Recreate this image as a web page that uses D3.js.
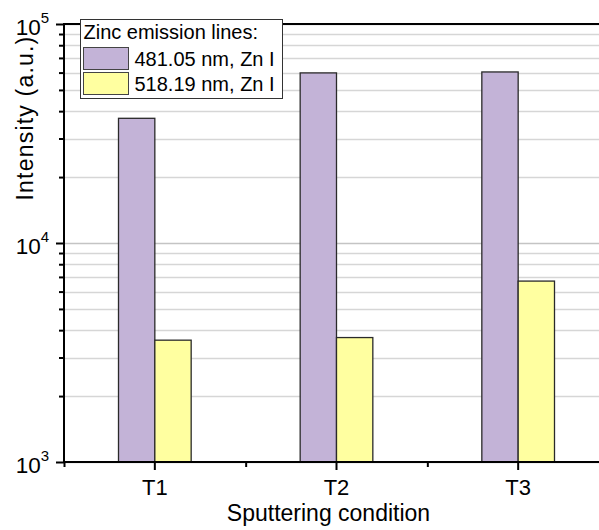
<!DOCTYPE html>
<html>
<head>
<meta charset="utf-8">
<script src="https://cdn.jsdelivr.net/npm/d3@7"></script>
<style>
  html, body { margin: 0; padding: 0; background: #fff; }
  svg { display: block; font-family: "Liberation Sans", Arial, sans-serif; }
</style>
</head>
<body>
<div id="chart"></div>
<script>
// data
var categories = ["T1", "T2", "T3"];
var seriesNames = ["481.05 nm, Zn I", "518.19 nm, Zn I"];
var zn481 = [37100, 59800, 60400];
var zn518 = [3600, 3700, 6700];
var yDomain = [1000, 100000];
var legendTitle = "Zinc emission lines:";
var xTitle = "Sputtering condition";
var yTitle = "Intensity (a.u.)";

var W = 599, H = 530;
var LEFT = 64, RIGHT = 609, TOP = 24, BOTTOM = 462;
var COLORS = ["#c3b3d7", "#ffffa0"];
var FONT = "'Liberation Sans', Arial, sans-serif";

var svg = d3.select("#chart").append("svg")
    .attr("width", W).attr("height", H);

var x = d3.scaleBand().domain(categories).range([LEFT, RIGHT]).padding(0);
var groupW = x.bandwidth() * 0.4;
var xSub = d3.scaleBand().domain(d3.range(seriesNames.length))
    .range([0, groupW]).padding(0);
var y = d3.scaleLog().domain(yDomain).range([BOTTOM, TOP]);

var allTicks = y.ticks();
function isMajor(v) { return Math.abs(Math.log10(v) - Math.round(Math.log10(v))) < 1e-9; }
var majorTicks = allTicks.filter(isMajor);
var minorTicks = allTicks.filter(function (v) { return !isMajor(v); });

/* gridlines */
svg.append("g").selectAll("line")
    .data(allTicks)
    .enter().append("line")
    .attr("x1", LEFT).attr("x2", RIGHT)
    .attr("y1", function (d) { return Math.round(y(d)) + 0.5; })
    .attr("y2", function (d) { return Math.round(y(d)) + 0.5; })
    .attr("stroke", function (d) { return isMajor(d) ? "#c4c4c4" : "#d6d6d6"; })
    .attr("stroke-width", 1.5);

/* bars */
var series = [zn481, zn518];
var barG = svg.append("g");
series.forEach(function (vals, si) {
    barG.selectAll(".bar-" + si)
        .data(vals)
        .enter().append("rect")
        .attr("class", "bar-" + si)
        .attr("x", function (d, i) { return x(categories[i]) + x.bandwidth() / 2 - groupW / 2 + xSub(si); })
        .attr("width", xSub.bandwidth())
        .attr("y", function (d) { return y(d); })
        .attr("height", function (d) { return BOTTOM - y(d); })
        .attr("fill", COLORS[si])
        .attr("stroke", "#2a2a2a")
        .attr("stroke-width", 1.3);
});

/* y axis: minor + major ticks */
svg.append("g")
    .attr("transform", "translate(" + LEFT + ",0)")
    .call(d3.axisLeft(y).tickValues(minorTicks).tickSize(5).tickFormat(""))
    .call(function (g) {
        g.select(".domain").remove();
        g.selectAll(".tick line").attr("stroke", "#000").attr("stroke-width", 2);
    });

var yAxis = svg.append("g")
    .attr("transform", "translate(" + LEFT + ",0)")
    .call(d3.axisLeft(y).tickValues(majorTicks).tickSize(8).tickPadding(7).tickFormat(""));
yAxis.attr("font-family", FONT).attr("font-size", null);
yAxis.select(".domain").remove();
yAxis.selectAll(".tick line").attr("stroke", "#000").attr("stroke-width", 2);
yAxis.selectAll(".tick text").each(function (d) {
    var t = d3.select(this)
        .attr("fill", "#000")
        .style("font-size", "22.5px")
        .attr("dy", "0.46em")
        .attr("text-anchor", "end");
    t.append("tspan").text("10");
    t.append("tspan").style("font-size", "15px").attr("dy", "-0.8em")
        .text(Math.round(Math.log10(d)));
});

/* x axis: minor ticks between groups, major at categories */
var minorX = d3.scaleLinear().domain([0, categories.length]).range([LEFT, RIGHT]);
svg.append("g")
    .attr("transform", "translate(0," + BOTTOM + ")")
    .call(d3.axisBottom(minorX).tickValues(d3.range(categories.length + 1)).tickSize(5).tickFormat(""))
    .call(function (g) {
        g.select(".domain").remove();
        g.selectAll(".tick line").attr("stroke", "#000").attr("stroke-width", 2);
    });

var xAxis = svg.append("g")
    .attr("transform", "translate(0," + BOTTOM + ")")
    .call(d3.axisBottom(x).tickSize(8).tickPadding(9));
xAxis.attr("font-family", FONT).attr("font-size", null);
xAxis.select(".domain").remove();
xAxis.selectAll(".tick line").attr("stroke", "#000").attr("stroke-width", 2);
xAxis.selectAll(".tick text")
    .attr("fill", "#000")
    .style("font-size", "22px");

/* frame lines */
svg.append("line")
    .attr("x1", LEFT).attr("x2", LEFT).attr("y1", TOP - 1).attr("y2", BOTTOM + 1)
    .attr("stroke", "#000").attr("stroke-width", 2);
svg.append("line")
    .attr("x1", LEFT - 1).attr("x2", RIGHT).attr("y1", BOTTOM).attr("y2", BOTTOM)
    .attr("stroke", "#000").attr("stroke-width", 2);
svg.append("line")
    .attr("x1", LEFT - 1).attr("x2", RIGHT).attr("y1", TOP).attr("y2", TOP)
    .attr("stroke", "#000").attr("stroke-width", 2);

/* axis titles */
svg.append("text")
    .attr("x", (LEFT + RIGHT) / 2 - 8).attr("y", 521)
    .attr("text-anchor", "middle")
    .attr("font-size", 23)
    .attr("fill", "#000")
    .text(xTitle);

svg.append("text")
    .attr("transform", "translate(33,118) rotate(-90)")
    .attr("text-anchor", "middle")
    .attr("font-size", 23)
    .attr("letter-spacing", 1.2)
    .attr("fill", "#000")
    .text(yTitle);

/* legend */
var leg = svg.append("g").attr("transform", "translate(80.5,19.5)");
leg.append("rect")
    .attr("width", 202).attr("height", 79)
    .attr("fill", "#fff").attr("stroke", "#333").attr("stroke-width", 1);
leg.append("text")
    .attr("x", 3).attr("y", 19)
    .attr("font-size", 20).attr("fill", "#000")
    .text(legendTitle);
seriesNames.forEach(function (name, i) {
    var row = leg.append("g").attr("transform", "translate(3," + (28 + i * 25) + ")");
    row.append("rect")
        .attr("width", 45).attr("height", 22)
        .attr("fill", COLORS[i]).attr("stroke", "#444").attr("stroke-width", 1);
    row.append("text")
        .attr("x", 51).attr("y", 18)
        .attr("font-size", 20).attr("fill", "#000")
        .text(name);
});
</script>
</body>
</html>
